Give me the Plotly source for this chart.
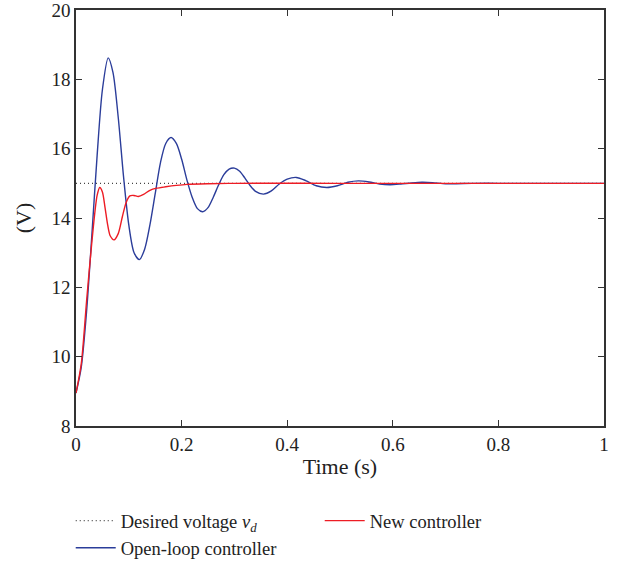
import plotly.graph_objects as go

# time (s) and voltage (V)
t_open = [0, 0.01, 0.02, 0.03, 0.04, 0.05, 0.061, 0.07, 0.08, 0.09, 0.1, 0.11, 0.12,
          0.13, 0.14, 0.15, 0.16, 0.17, 0.18, 0.19, 0.2, 0.21, 0.22, 0.23, 0.24, 0.25,
          0.26, 0.27, 0.28, 0.29, 0.3, 0.31, 0.32, 0.33, 0.34, 0.355, 0.37, 0.385, 0.4,
          0.417, 0.435, 0.455, 0.475, 0.495, 0.515, 0.535, 0.555, 0.575, 0.595, 0.615,
          0.635, 0.655, 0.675, 0.7, 0.72, 0.75, 0.8, 0.9, 1.0]
v_open = [8.95, 9.7, 11.3, 13.5, 15.8, 17.7, 18.62, 18.2, 16.9, 15.2, 13.8, 13.0, 12.8,
          13.1, 13.8, 14.7, 15.6, 16.15, 16.32, 16.15, 15.7, 15.1, 14.6, 14.27, 14.18, 14.3,
          14.6, 14.95, 15.25, 15.41, 15.44, 15.35, 15.15, 14.93, 14.77, 14.69, 14.78, 14.98, 15.12,
          15.17, 15.08, 14.93, 14.88, 14.93, 15.03, 15.07, 15.04, 14.98, 14.96, 14.98,
          15.01, 15.03, 15.02, 14.99, 14.99, 15.0, 15.0, 15.0, 15.0]

t_new = [0, 0.01, 0.02, 0.03, 0.04, 0.045, 0.05, 0.055, 0.06, 0.065, 0.072, 0.08, 0.088,
         0.095, 0.102, 0.11, 0.118, 0.128, 0.14, 0.153, 0.17, 0.19, 0.21, 0.25, 0.3, 0.5, 1.0]
v_new = [8.95, 9.8, 11.6, 13.3, 14.65, 14.88, 14.75, 14.3, 13.8, 13.48, 13.37, 13.55, 14.05,
         14.45, 14.64, 14.65, 14.62, 14.68, 14.8, 14.86, 14.9, 14.94, 14.97, 14.99, 15.0, 15.0, 15.0]

t_ref = [0, 1]
v_ref = [15, 15]

fig = go.Figure()
fig.add_trace(go.Scatter(x=t_ref, y=v_ref, mode="lines", name="Desired voltage <i>v</i><sub><i>d</i></sub>",
                         line=dict(color="#444444", width=1.2, dash="1px,3px"), legendrank=1))
fig.add_trace(go.Scatter(x=t_open, y=v_open, mode="lines", name="Open-loop controller",
                         line=dict(color="#2b3d9a", width=1.4, shape="spline", smoothing=0.8),
                         legendrank=3))
fig.add_trace(go.Scatter(x=t_new, y=v_new, mode="lines", name="New controller",
                         line=dict(color="#ed1c24", width=1.4, shape="spline", smoothing=0.8),
                         legendrank=2))

axis_common = dict(showline=True, linecolor="#333333", linewidth=1.5, mirror="ticks",
                   ticks="inside", ticklen=6, tickcolor="#333333", showgrid=False,
                   zeroline=False, automargin=False, ticklabeloverflow="allow",
                   tickfont=dict(size=19, color="#222222"))

fig.update_layout(
    width=629, height=567,
    margin=dict(l=76, r=25, t=10, b=141, autoexpand=False),
    plot_bgcolor="white", paper_bgcolor="white",
    font=dict(family="Liberation Serif, Times New Roman, serif", size=18, color="#222222"),
    xaxis=dict(range=[0, 1], dtick=0.2, title=dict(text="Time (s)", standoff=5), **axis_common),
    yaxis=dict(range=[8, 20], dtick=2, title=dict(text="(V)", standoff=14), **axis_common),
    legend=dict(orientation="h", x=-0.01, xanchor="left", y=-0.183, yanchor="top",
                entrywidth=194, entrywidthmode="pixels", font=dict(size=18.5),
                traceorder="normal", itemwidth=40, bgcolor="rgba(0,0,0,0)"),
)

# drop the page's default body margin so the figure sits at the top-left corner
fig.write_html("out.html", config={"displayModeBar": False},
               post_script="document.body.style.margin='0';")
